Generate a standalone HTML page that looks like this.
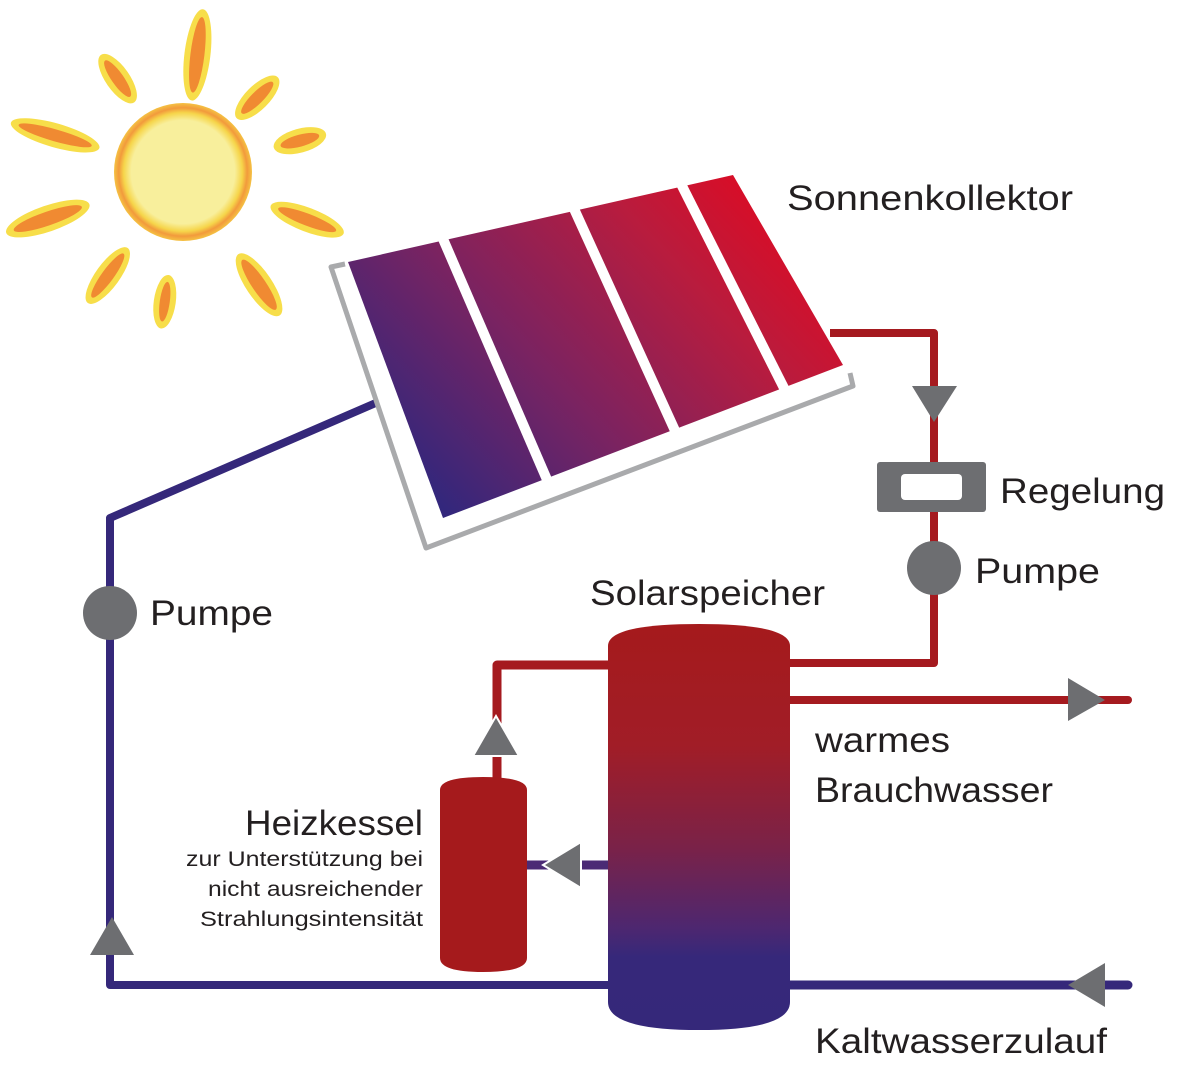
<!DOCTYPE html>
<html><head><meta charset="utf-8"><style>
html,body{margin:0;padding:0;background:#fff;width:1200px;height:1072px;overflow:hidden}
svg text{font-family:"Liberation Sans",sans-serif;fill:#231f20}
</style></head><body>
<svg width="1200" height="1072" viewBox="0 0 1200 1072" xmlns="http://www.w3.org/2000/svg">
<defs>
<linearGradient id="pg" gradientUnits="userSpaceOnUse" x1="450" y1="515" x2="800" y2="190">
<stop offset="0" stop-color="#33277c"/><stop offset="0.35" stop-color="#7a2361"/><stop offset="0.7" stop-color="#b81c3e"/><stop offset="1" stop-color="#e3081f"/>
</linearGradient>
<linearGradient id="tg" x1="0" y1="0" x2="0" y2="1">
<stop offset="0" stop-color="#a51a1c"/><stop offset="0.3" stop-color="#a11d27"/><stop offset="0.55" stop-color="#7a2248"/><stop offset="0.75" stop-color="#4d2770"/><stop offset="0.82" stop-color="#36287a"/><stop offset="1" stop-color="#35287a"/>
</linearGradient>
<radialGradient id="sg"><stop offset="0.75" stop-color="#f8ef9c"/><stop offset="0.86" stop-color="#f6d54a"/><stop offset="0.93" stop-color="#f29a3c"/><stop offset="1" stop-color="#f5c243"/></radialGradient>
</defs>

<!-- sun rays -->
<g>
<g transform="rotate(-83 183 172)"><ellipse cx="301" cy="172" rx="46" ry="13" fill="#f7de4a"/><ellipse cx="301" cy="172" rx="38" ry="7" fill="#f08a32"/></g>
<g transform="rotate(-125 183 172)"><ellipse cx="297" cy="172" rx="29" ry="12" fill="#f7de4a"/><ellipse cx="297" cy="172" rx="22" ry="6" fill="#f08a32"/></g>
<g transform="rotate(-164 183 172)"><ellipse cx="316" cy="172" rx="46" ry="12" fill="#f7de4a"/><ellipse cx="316" cy="172" rx="38" ry="6" fill="#f08a32"/></g>
<g transform="rotate(161 183 172)"><ellipse cx="326" cy="172" rx="44" ry="13" fill="#f7de4a"/><ellipse cx="326" cy="172" rx="36" ry="7" fill="#f08a32"/></g>
<g transform="rotate(126 183 172)"><ellipse cx="311" cy="172" rx="34" ry="12" fill="#f7de4a"/><ellipse cx="311" cy="172" rx="27" ry="6" fill="#f08a32"/></g>
<g transform="rotate(98 183 172)"><ellipse cx="314" cy="172" rx="27" ry="11" fill="#f7de4a"/><ellipse cx="314" cy="172" rx="20" ry="5" fill="#f08a32"/></g>
<g transform="rotate(56 183 172)"><ellipse cx="319" cy="172" rx="37" ry="13" fill="#f7de4a"/><ellipse cx="319" cy="172" rx="30" ry="7" fill="#f08a32"/></g>
<g transform="rotate(21 183 172)"><ellipse cx="316" cy="172" rx="39" ry="12" fill="#f7de4a"/><ellipse cx="316" cy="172" rx="31" ry="6" fill="#f08a32"/></g>
<g transform="rotate(-15 183 172)"><ellipse cx="304" cy="172" rx="27" ry="12" fill="#f7de4a"/><ellipse cx="304" cy="172" rx="20" ry="6" fill="#f08a32"/></g>
<g transform="rotate(-45 183 172)"><ellipse cx="288" cy="172" rx="29" ry="12" fill="#f7de4a"/><ellipse cx="288" cy="172" rx="22" ry="6" fill="#f08a32"/></g>
</g>
<circle cx="183" cy="172" r="69" fill="url(#sg)"/>

<!-- blue loop -->
<polyline points="378,402 110,518 110,985 612,985" fill="none" stroke="#35287a" stroke-width="8" stroke-linejoin="round"/>
<!-- red collector return -->
<polyline points="830,333 934,333 934,663 780,663" fill="none" stroke="#a51a1f" stroke-width="8" stroke-linejoin="round"/>

<!-- panel frame -->
<polyline points="345,264 331,267 426,548 853,386 850,373" fill="none" stroke="#a9aaac" stroke-width="5" stroke-linejoin="round"/>
<!-- panel -->
<polygon points="348,262 733,175 843,365 443,518" fill="url(#pg)"/>
<g stroke="#fff" stroke-width="10">
<line x1="440" y1="232" x2="548" y2="482"/>
<line x1="570" y1="200" x2="677" y2="435"/>
<line x1="677" y1="176" x2="786" y2="392"/>
</g>

<!-- left pump & arrow -->
<circle cx="110" cy="613" r="27" fill="#6d6e71"/>
<polygon points="112,917 90,955 134,955" fill="#6d6e71"/>

<!-- right arrow, regelung, pump -->
<polygon points="912,386 957,386 934,422" fill="#6d6e71"/>
<rect x="877" y="462" width="109" height="50" rx="3" fill="#6d6e71"/>
<rect x="901" y="474" width="61" height="26" rx="4" fill="#fff"/>
<circle cx="934" cy="568" r="27" fill="#6d6e71"/>

<!-- warm water out -->
<line x1="780" y1="700" x2="1128" y2="700" stroke="#a51a1f" stroke-width="8" stroke-linecap="round"/>
<polygon points="1068,678 1105,700 1068,721" fill="#6d6e71"/>
<!-- cold water in -->
<line x1="780" y1="985" x2="1128" y2="985" stroke="#35287a" stroke-width="9" stroke-linecap="round"/>
<polygon points="1105,963 1068,985 1105,1007" fill="#6d6e71"/>

<!-- heizkessel connections -->
<polyline points="612,665 497,665 497,782" fill="none" stroke="#a51a1f" stroke-width="9" stroke-linejoin="round"/>
<polygon points="496,716 473,756 519,756" fill="#6d6e71" stroke="#fff" stroke-width="2"/>
<line x1="525" y1="865" x2="612" y2="865" stroke="#4b2a75" stroke-width="9"/>
<polygon points="543,865 581,842 581,888" fill="#6d6e71" stroke="#fff" stroke-width="2"/>
<path d="M440,790 Q440,777 483,777 Q527,777 527,790 L527,958 Q527,972 483,972 Q440,972 440,958 Z" fill="#a51a1c"/>

<!-- tank -->
<path d="M608,646 Q608,624 699,624 Q790,624 790,646 L790,1002 Q790,1030 699,1030 Q608,1030 608,1002 Z" fill="url(#tg)"/>

<!-- labels -->
<text x="787" y="210" font-size="35" textLength="286" lengthAdjust="spacingAndGlyphs">Sonnenkollektor</text>
<text x="1000" y="503" font-size="35" textLength="165" lengthAdjust="spacingAndGlyphs">Regelung</text>
<text x="975" y="583" font-size="35" textLength="125" lengthAdjust="spacingAndGlyphs">Pumpe</text>
<text x="150" y="625" font-size="35" textLength="123" lengthAdjust="spacingAndGlyphs">Pumpe</text>
<text x="590" y="605" font-size="35" textLength="235" lengthAdjust="spacingAndGlyphs">Solarspeicher</text>
<text x="815" y="752" font-size="35" textLength="135" lengthAdjust="spacingAndGlyphs">warmes</text>
<text x="815" y="802" font-size="35" textLength="238" lengthAdjust="spacingAndGlyphs">Brauchwasser</text>
<text x="815" y="1053" font-size="35" textLength="292" lengthAdjust="spacingAndGlyphs">Kaltwasserzulauf</text>
<text x="245" y="835" font-size="35" textLength="178" lengthAdjust="spacingAndGlyphs">Heizkessel</text>
<text x="186" y="866" font-size="21" textLength="237" lengthAdjust="spacingAndGlyphs">zur Unterstützung bei</text>
<text x="208" y="896" font-size="21" textLength="215" lengthAdjust="spacingAndGlyphs">nicht ausreichender</text>
<text x="200" y="926" font-size="21" textLength="223" lengthAdjust="spacingAndGlyphs">Strahlungsintensität</text>
</svg>
</body></html>
